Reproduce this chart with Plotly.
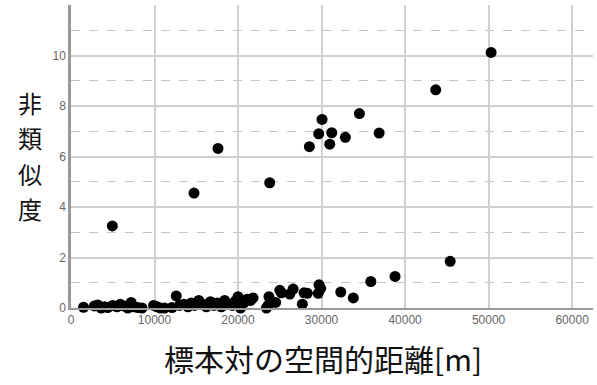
import plotly.graph_objects as go

# Data (distance [m], dissimilarity)
dist_high = [4950, 14730, 17600, 23790, 28540, 29660, 30060, 30980, 31220,
             32850, 34530, 36890, 43670, 50300]
dis_high = [3.25, 4.55, 6.32, 4.96, 6.39, 6.90, 7.47, 6.49, 6.94,
            6.76, 7.70, 6.93, 8.64, 10.12]

dist_low = [1500, 2800, 3200, 3600, 4000, 4400, 5000, 5500, 5900, 6300,
            6800, 7200, 7500, 8000, 8500, 9900, 10300, 10700, 11200, 12100,
            12600, 13000, 13500, 14000, 14400, 14800, 15300, 15800, 16200, 16700,
            17100, 17500, 18000, 18400, 18900, 19300, 19700, 20000, 20300, 20700,
            21100, 21500, 21800, 23400, 23600, 23700, 24500, 25000, 25200, 26200,
            26600, 27700, 27900, 28300, 29600, 29700, 29900, 32300, 33800, 35900,
            38800, 45400]
dis_low = [0.03, 0.08, 0.12, 0.00, 0.05, 0.02, 0.10, 0.05, 0.15, 0.08,
           0.00, 0.22, 0.05, 0.02, 0.00, 0.10, 0.05, 0.00, 0.00, 0.02,
           0.48, 0.10, 0.15, 0.05, 0.20, 0.10, 0.30, 0.15, 0.05, 0.25,
           0.10, 0.20, 0.05, 0.30, 0.15, 0.10, 0.28, 0.45, 0.00, 0.20,
           0.35, 0.30, 0.40, 0.00, 0.10, 0.45, 0.22, 0.70, 0.60, 0.55,
           0.75, 0.15, 0.60, 0.58, 0.58, 0.92, 0.78, 0.63, 0.40, 1.05,
           1.25, 1.85]

x_ticks = [0, 10000, 20000, 30000, 40000, 50000, 60000]
y_ticks = [0, 2, 4, 6, 8, 10]
y_minor = [1, 3, 5, 7, 9, 11]

x_title = "標本対の空間的距離[m]"
y_title = "非類似度"

fig = go.Figure()
fig.add_trace(go.Scatter(
    x=dist_low + dist_high, y=dis_low + dis_high, mode="markers",
    marker=dict(color="black", size=11, line=dict(width=0)),
    showlegend=False, cliponaxis=False))

grid = "#cfcfcf"
fig.update_layout(
    width=597, height=385,
    margin=dict(l=71, r=4, t=5, b=77),
    paper_bgcolor="white", plot_bgcolor="white",
    font=dict(family="Liberation Sans, Arial, sans-serif", color="#666", size=12),
    xaxis=dict(range=[0, 62500], tickvals=x_ticks, ticktext=[str(v) for v in x_ticks],
               showgrid=True, gridcolor=grid, gridwidth=1.5,
               showline=True, linecolor="#999", linewidth=2,
               zeroline=False, ticks="", ticklen=0),
    yaxis=dict(range=[0, 12], tickvals=y_ticks, ticktext=[str(v) for v in y_ticks],
               showgrid=True, gridcolor=grid, gridwidth=1.5,
               showline=True, linecolor="#999", linewidth=2.5,
               zeroline=False, ticks="", ticklen=0,
               minor=dict(tickvals=y_minor, showgrid=True, gridcolor="#c4c4c4",
                          griddash="dash", gridwidth=1)),
)

# x-axis title
fig.add_annotation(
    text=x_title, xref="paper", yref="paper",
    x=0.483, y=-0.165, xanchor="center", yanchor="middle", showarrow=False,
    font=dict(family="Noto Sans CJK JP", size=30, color="#111"))

# y-axis title, one character per line
plot_top, plot_h = 5, 303
for i, ch in enumerate(y_title):
    py = 102 + 35.5 * i
    fig.add_annotation(
        text=ch, xref="paper", yref="paper",
        x=-0.079, y=(plot_top + plot_h - py) / plot_h,
        xanchor="center", yanchor="middle", showarrow=False,
        font=dict(family="Noto Sans CJK JP", size=24, color="#111"))

fig.write_html("out.html")
